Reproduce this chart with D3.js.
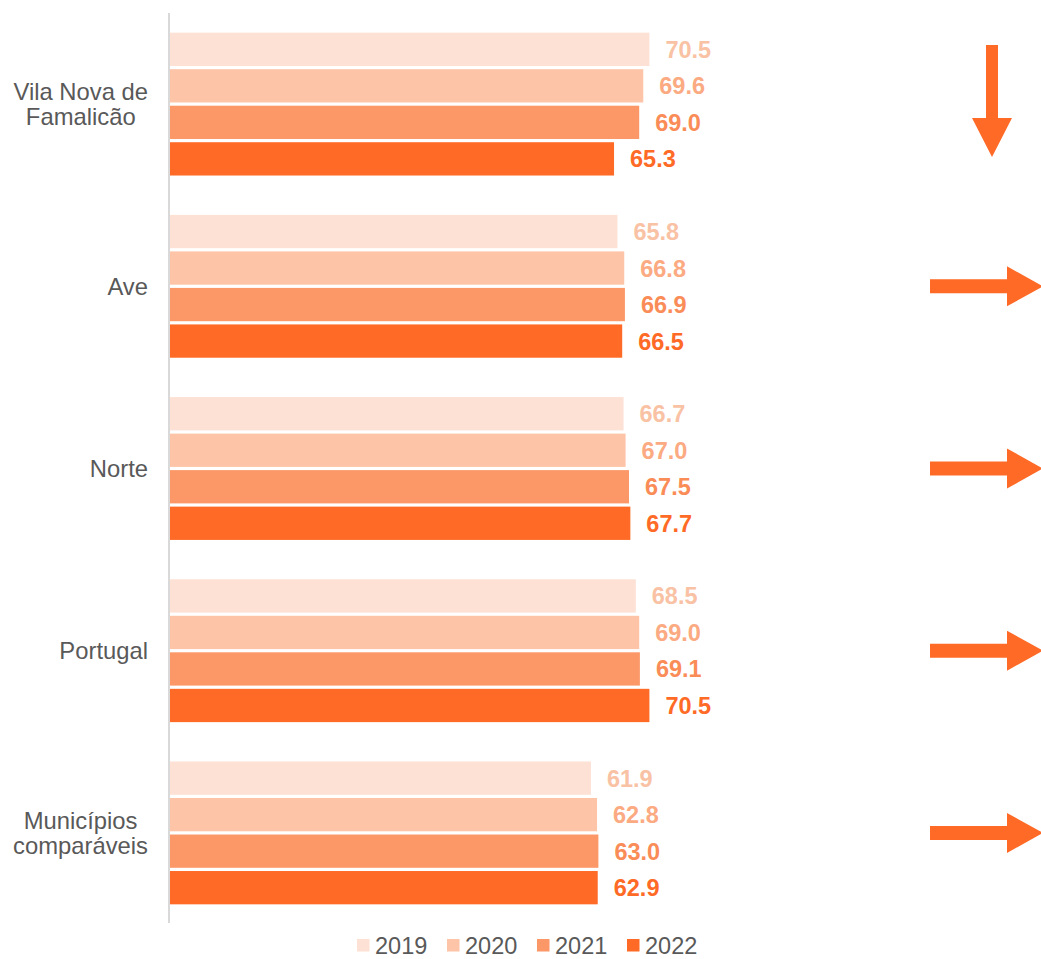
<!DOCTYPE html>
<html>
<head>
<meta charset="utf-8">
<script src="https://cdn.jsdelivr.net/npm/d3@7"></script>
<style>
  html, body { margin: 0; padding: 0; background: #fff; }
  svg { display: block; font-family: "Liberation Sans", Arial, sans-serif; }
</style>
</head>
<body>
<svg id="chart" width="1041" height="959"></svg>
<script>
const categories = ["Vila Nova de Famalicão", "Ave", "Norte", "Portugal", "Municípios comparáveis"];
const categoryLines = [["Vila Nova de", "Famalicão"], ["Ave"], ["Norte"], ["Portugal"], ["Municípios", "comparáveis"]];
const years = ["2019", "2020", "2021", "2022"];
const values2019 = [70.5, 65.8, 66.7, 68.5, 61.9];
const values2020 = [69.6, 66.8, 67.0, 69.0, 62.8];
const values2021 = [69.0, 66.9, 67.5, 69.1, 63.0];
const values2022 = [65.3, 66.5, 67.7, 70.5, 62.9];
const trends = ["down", "flat", "flat", "flat", "flat"];

const barColors = ["#FDE1D4", "#FDC4A8", "#FC9868", "#FF6A26"];
const labelColors = ["#F9C2A4", "#FBAA82", "#FA8C58", "#FF6A26"];
const arrowColor = "#FF6A26";

const series = [values2019, values2020, values2021, values2022];
const data = categories.map((c, i) => ({
  cat: c, lines: categoryLines[i], trend: trends[i],
  vals: years.map((y, j) => ({ year: y, j, v: series[j][i] }))
}));

const svg = d3.select("#chart");
const x = d3.scaleLinear().domain([0, 100]).range([170, 850]);
const y0 = d3.scaleBand().domain(categories).range([13, 924]).paddingInner(0.216).paddingOuter(0.108);
const y1 = d3.scaleBand().domain(years).range([0, y0.bandwidth()]).paddingInner(0.088);

// axis line
svg.append("line")
  .attr("x1", 169).attr("x2", 169)
  .attr("y1", 13).attr("y2", 923)
  .attr("stroke", "#D9D9D9").attr("stroke-width", 2);

const g = svg.selectAll("g.cat").data(data).enter().append("g")
  .attr("class", "cat")
  .attr("transform", d => `translate(0,${y0(d.cat)})`);

g.selectAll("rect").data(d => d.vals).enter().append("rect")
  .attr("x", x(0))
  .attr("y", d => y1(d.year))
  .attr("width", d => x(d.v) - x(0))
  .attr("height", y1.bandwidth())
  .attr("fill", d => barColors[d.j]);

g.selectAll("text.val").data(d => d.vals).enter().append("text")
  .attr("class", "val")
  .attr("x", d => x(d.v) + 16)
  .attr("y", d => y1(d.year) + y1.bandwidth() / 2 + 8.5)
  .attr("font-size", "23.5px")
  .attr("font-weight", "bold")
  .attr("fill", d => labelColors[d.j])
  .text(d => d.v.toFixed(1));

// category labels
const labelRight = 148;
const lineH = 24.5;
data.forEach(d => {
  const cy = y0(d.cat) + y0.bandwidth() / 2;
  const n = d.lines.length;
  const tg = svg.append("g");
  const texts = d.lines.map((ln, k) => tg.append("text")
    .attr("font-size", "23.8px")
    .attr("fill", "#595959")
    .attr("y", cy + 8.4 + (k - (n - 1) / 2) * lineH)
    .text(ln));
  const widths = texts.map(t => t.node().getComputedTextLength());
  const maxW = d3.max(widths);
  const center = labelRight - maxW / 2;
  texts.forEach(t => t.attr("x", center).attr("text-anchor", "middle"));
});

// trend arrows
data.forEach(d => {
  const cy = y0(d.cat) + y0.bandwidth() / 2;
  let pts;
  if (d.trend === "down") {
    const cx = 992;
    pts = [[cx - 6, cy - 59], [cx + 6, cy - 59], [cx + 6, cy + 14], [cx + 20, cy + 14],
           [cx, cy + 53], [cx - 20, cy + 14], [cx - 6, cy + 14]];
  } else {
    pts = [[930, cy - 7], [1007, cy - 7], [1007, cy - 20], [1043, cy],
           [1007, cy + 20], [1007, cy + 7], [930, cy + 7]];
  }
  svg.append("polygon")
    .attr("points", pts.map(p => p.join(",")).join(" "))
    .attr("fill", arrowColor);
});

// legend
const legend = svg.append("g");
years.forEach((yr, j) => {
  const lx = 357 + j * 90;
  legend.append("rect").attr("x", lx).attr("y", 939).attr("width", 12.5).attr("height", 12.5)
    .attr("fill", barColors[j]);
  legend.append("text").attr("x", lx + 18).attr("y", 953.5)
    .attr("font-size", "23.5px").attr("fill", "#595959").text(yr);
});
</script>
</body>
</html>
